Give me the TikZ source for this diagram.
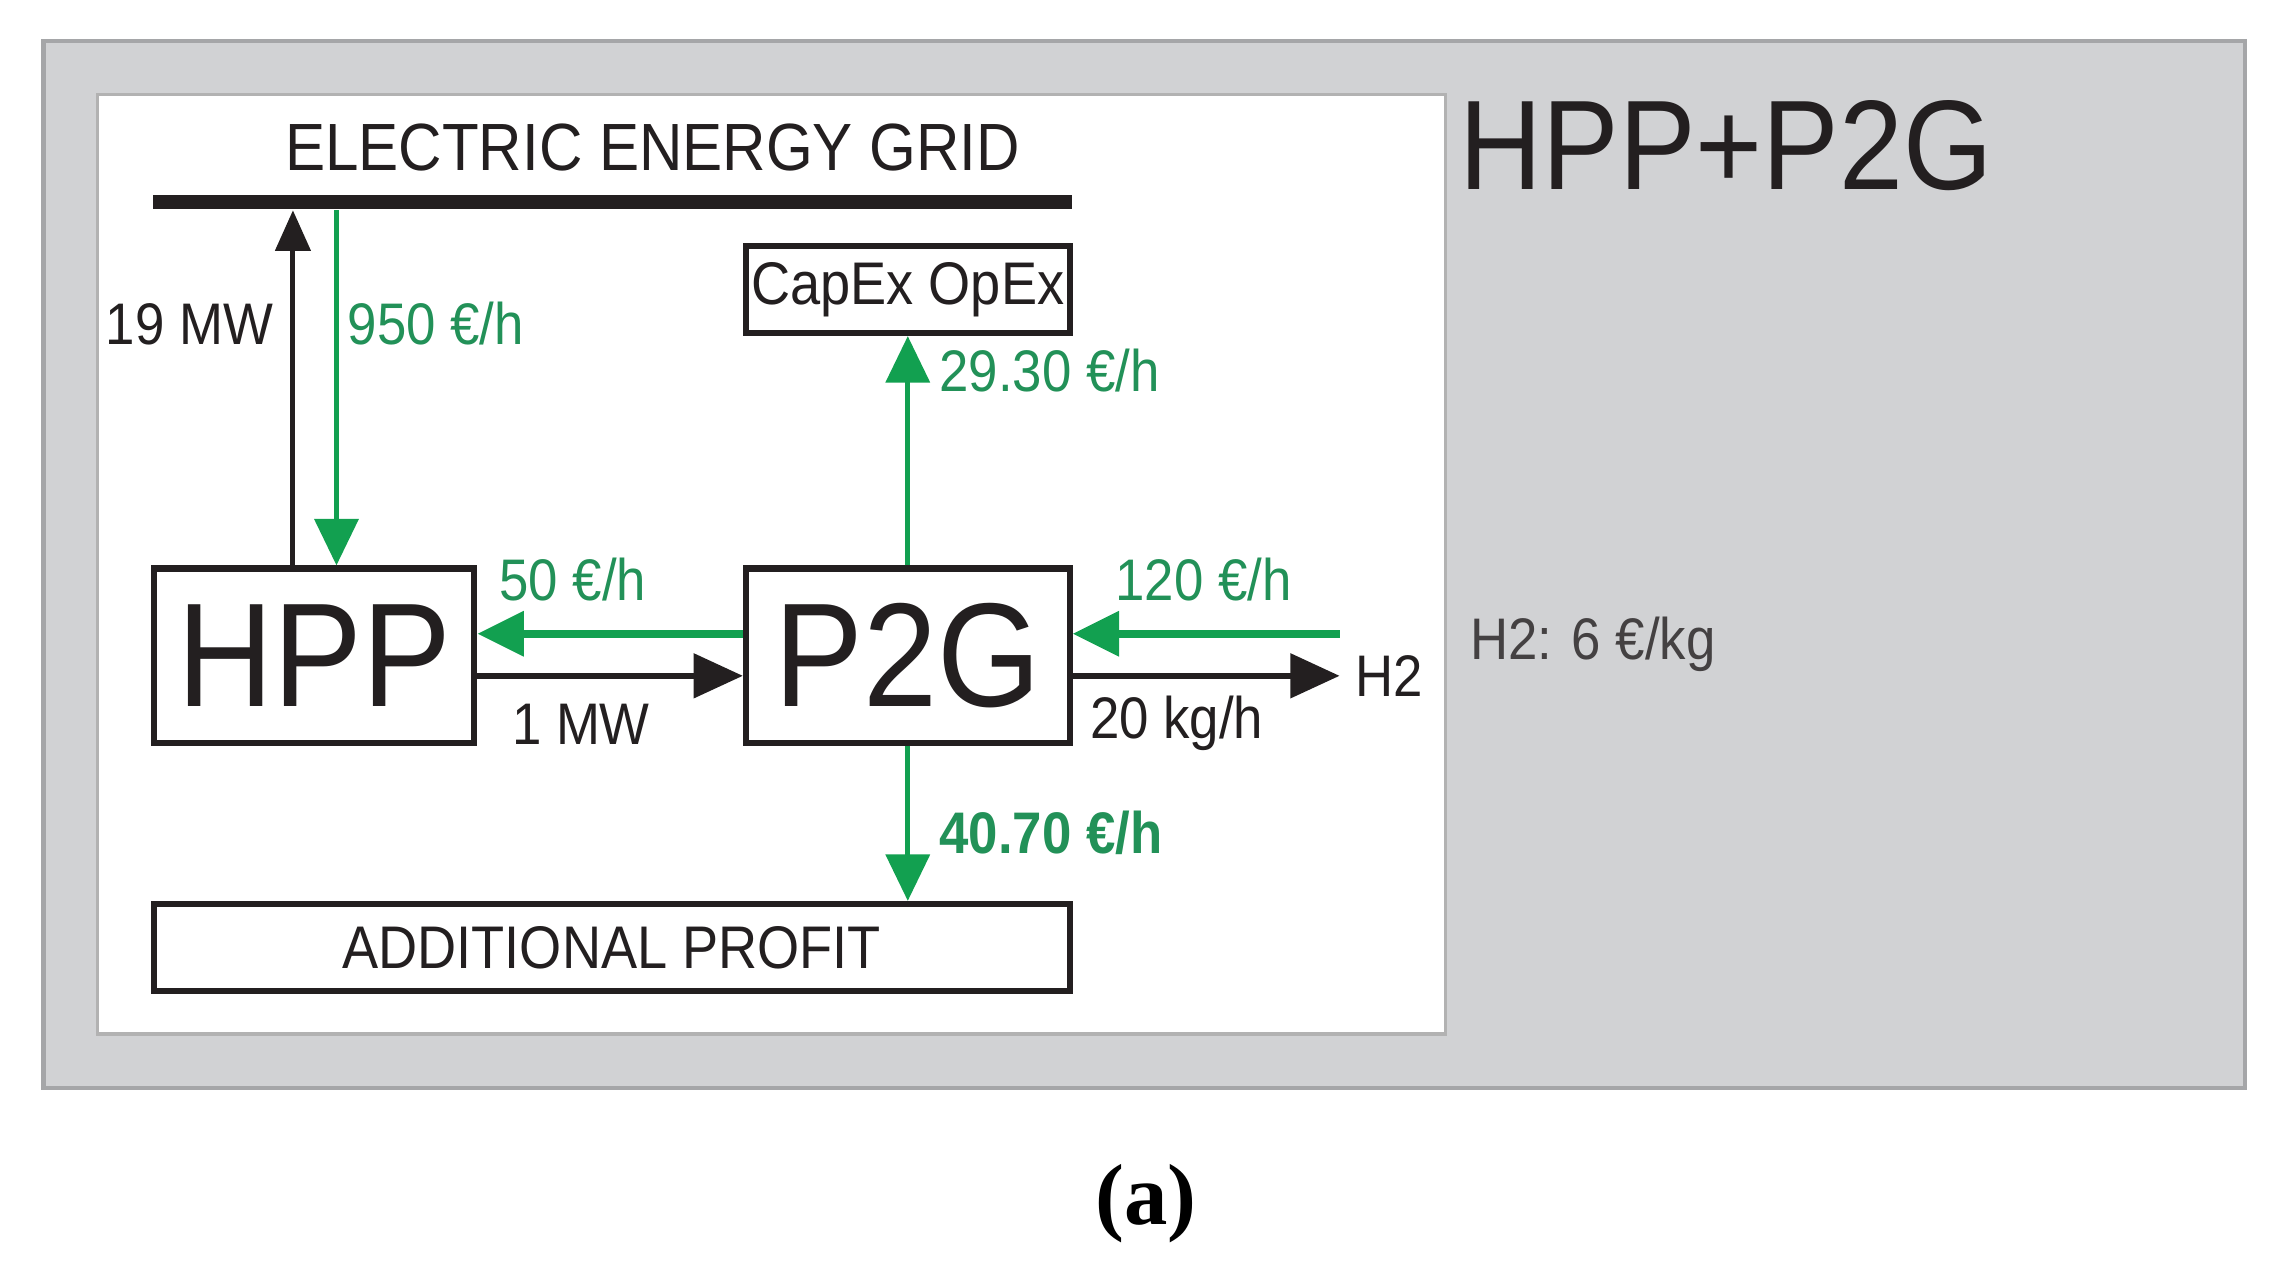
\documentclass[tikz,border=0pt]{standalone}
\usepackage{fontspec}
\setmainfont{Liberation Sans}[FakeStretch=0.9]
\newfontfamily\captionserif{Liberation Serif}
\usetikzlibrary{arrows.meta, positioning, calc}
\definecolor{PanelGray}{HTML}{D1D2D4}
\definecolor{PanelEdge}{HTML}{A5A6A8}
\definecolor{FlowGreen}{HTML}{12A050}
\definecolor{LabelGreen}{HTML}{229158}
\definecolor{Ink}{HTML}{231F20}

\begin{document}
\begin{tikzpicture}[
    x=0.01cm, y=-0.01cm,
    node distance=0.2cm,
    % boxes
    unitbox/.style={draw=Ink, line width=1.2pt, fill=white, inner sep=0pt, text=Ink},
    bigbox/.style={unitbox, minimum width=2.21cm, minimum height=1.2cm,
        font=\fontsize{29pt}{31pt}\selectfont},
    smallbox/.style={unitbox, minimum height=0.6cm,
        font=\fontsize{11.8pt}{13pt}\selectfont},
    % labels
    blacktext/.style={font=\fontsize{11.5pt}{13pt}\selectfont, text=Ink, inner sep=0pt},
    greentext/.style={blacktext, text=LabelGreen},
    boldgreen/.style={greentext, font=\fontsize{11.5pt}{13pt}\selectfont\bfseries},
    % flows
    greenflow/.style={draw=FlowGreen, line width=1.6pt, -{Triangle[width=0.3cm,length=0.32cm]}},
    greenriser/.style={greenflow, line width=1pt},
    blackflow/.style={draw=Ink, line width=1.3pt, -{Triangle[width=0.3cm,length=0.34cm]}},
    blackriser/.style={draw=Ink, line width=1pt, -{Triangle[width=0.24cm,length=0.28cm]}}
]

    % ====== frame ======
    \fill[white] (0,0) rectangle (1568,882);
    \useasboundingbox (0,0) rectangle (1568,882);
    \draw[fill=PanelGray, draw=PanelEdge, line width=0.8pt] (30,28) rectangle (1548,750);
    \draw[fill=white, draw=gray!60, line width=0.6pt] (67,65) rectangle (997,713);

    % ====== plants ======
    \node[bigbox] (hpp) at (216.5,452) {HPP};
    \node[bigbox, minimum width=2.23cm, right=1.83cm of hpp] (p2g) {P2G};
    \node[smallbox, minimum width=2.23cm, above=1.58cm of p2g] (capex) {CapEx OpEx};
    \node[smallbox, minimum width=6.31cm, below=1.07cm of p2g.south east, anchor=north east] (profit) {ADDITIONAL PROFIT};

    % ====== grid ======
    \node[fill=Ink, inner sep=0pt, minimum width=6.33cm, minimum height=0.1cm, anchor=south west] (grid) at (105,145) {};
    \node[font=\fontsize{13.1pt}{15pt}\selectfont, text=Ink, inner sep=0pt] (gridname) at (450,102) {ELECTRIC ENERGY GRID};

    \coordinate (up19) at ([xshift=-0.145cm]hpp.north);
    \coordinate (down950) at ([xshift=0.155cm]hpp.north);
    \draw[blackriser] (up19) -- node[blacktext, left=0.12cm, pos=0.68] (mw19) {19 MW} (up19 |- grid.south);
    \draw[greenriser] (down950 |- grid.south) -- node[greentext, right=0.06cm, pos=0.32] (eur950) {950 €/h} (down950);

    % ====== costs and profit ======
    \draw[greenriser] (p2g.north) -- node[greentext, right=0.2cm, pos=0.85] (eur2930) {29.30 €/h} (capex.south);
    \draw[greenriser] (p2g.south) -- node[boldgreen, right=0.2cm, pos=0.56] (eur4070) {40.70 €/h} (profit.north -| p2g.south);

    % ====== exchange HPP <-> P2G ======
    \draw[greenflow] ([yshift=0.15cm]p2g.west) -- node[greentext, above=0.2cm, pos=0.64] (eur50) {50 €/h} ([yshift=0.15cm]hpp.east);
    \draw[blackflow] ([yshift=-0.14cm]hpp.east) -- node[blacktext, below=0.175cm, pos=0.39] (mw1) {1 MW} ([yshift=-0.14cm]p2g.west);

    % ====== hydrogen ======
    \node[blacktext, inner xsep=0.1cm, anchor=west] (h2) at ([xshift=1.84cm,yshift=-0.14cm]p2g.east) {H2};
    \coordinate (h2feed) at ([xshift=1.84cm,yshift=0.15cm]p2g.east);
    \draw[greenflow] (h2feed) -- node[greentext, above=0.2cm, pos=0.51] (eur120) {120 €/h} ([yshift=0.15cm]p2g.east);
    \draw[blackflow] ([yshift=-0.14cm]p2g.east) -- node[blacktext, below=0.115cm, pos=0.39] (kg20) {20 kg/h} (h2.west);

    % ====== titles ======
    \node[font=\fontsize{25pt}{27pt}\selectfont, text=Ink, anchor=base west, inner sep=0pt] (title) at (1006,131) {HPP+P2G};
    \node[blacktext, text=Ink!85, anchor=base west] (price) at (1013,454.5) {H2: 6 €/kg};
    \node[font=\captionserif\bfseries\fontsize{17pt}{19pt}\selectfont, inner sep=0pt] (caption) at (790,830) {(a)};

\end{tikzpicture}
\end{document}
